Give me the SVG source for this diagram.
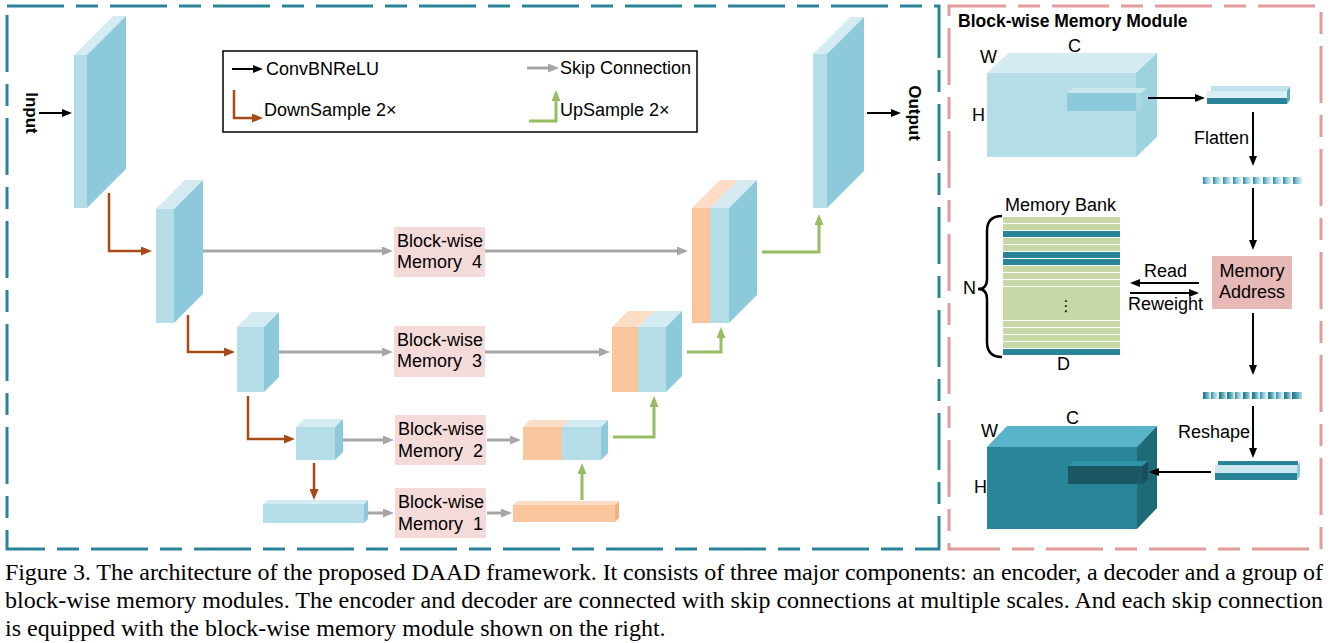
<svg xmlns="http://www.w3.org/2000/svg" width="1332" height="643" viewBox="0 0 1332 643">
<defs>
<style>
.t{font-family:"Liberation Sans",Arial,sans-serif;font-size:18px;fill:#000}
.tb{font-family:"Liberation Sans",Arial,sans-serif;font-size:17px;font-weight:bold;fill:#000}
.cap{font-family:"Liberation Serif","Times New Roman",serif;font-size:24px;fill:#000}
.fr{fill:#b5dde7}.sd{fill:#8ccadb}.tp{fill:#d4ebf2}
.of{fill:#f9c59c}.ot{fill:#fddcc5}.os{fill:#f6b07c}
.mem{fill:#f5dada}
.g{stroke:#a6a6a6;stroke-width:3;fill:none}
.b{stroke:#a64b17;stroke-width:2.5;fill:none}
.gr{stroke:#97bd63;stroke-width:3;fill:none}
.k{stroke:#000;stroke-width:2;fill:none}
.gb{fill:#c5d8a5}.tb2{fill:#2a8497}
</style>
<marker id="mk" markerWidth="10" markerHeight="8" refX="6" refY="4" orient="auto" markerUnits="userSpaceOnUse"><path d="M0,0 L10,4 L0,8 z" fill="#000"/></marker>
<marker id="mg" markerWidth="11" markerHeight="9" refX="7" refY="4.5" orient="auto" markerUnits="userSpaceOnUse"><path d="M0,0 L11,4.5 L0,9 z" fill="#a6a6a6"/></marker>
<marker id="mb" markerWidth="11" markerHeight="9" refX="7" refY="4.5" orient="auto" markerUnits="userSpaceOnUse"><path d="M0,0 L11,4.5 L0,9 z" fill="#a64b17"/></marker>
<marker id="mgr" markerWidth="11" markerHeight="9" refX="7" refY="4.5" orient="auto" markerUnits="userSpaceOnUse"><path d="M0,0 L11,4.5 L0,9 z" fill="#97bd63"/></marker>
<linearGradient id="seg1" x1="0" y1="0" x2="1" y2="0"><stop offset="0" stop-color="#2e8a9c"/><stop offset="0.45" stop-color="#8ccadb"/><stop offset="1" stop-color="#dcf0f5"/></linearGradient>
<linearGradient id="seg2" x1="0" y1="0" x2="1" y2="0"><stop offset="0" stop-color="#1f6f80"/><stop offset="0.5" stop-color="#4fa3b6"/><stop offset="1" stop-color="#b8dfe9"/></linearGradient>
</defs>
<rect width="1332" height="643" fill="#fff"/>

<g id="frames">
<rect x="7" y="6" width="932" height="543" fill="none" stroke="#2a8497" stroke-width="3" stroke-dasharray="57 12 22 12"/>
<rect x="949" y="6" width="372" height="543" fill="none" stroke="#e29b99" stroke-width="3" stroke-dasharray="57 12 22 12"/>
</g>

<g id="legend">
<rect x="223" y="51" width="474" height="81" fill="none" stroke="#000" stroke-width="1.5"/>
<text class="t" x="266" y="75">ConvBNReLU</text>
<text class="t" x="264" y="116">DownSample 2×</text>
<text class="t" x="560" y="74">Skip Connection</text>
<text class="t" x="560" y="116">UpSample 2×</text>
</g>

<g id="input-label"><text class="tb" transform="translate(26,113) rotate(90)" text-anchor="middle">Input</text></g>
<g id="output-label"><text class="tb" transform="translate(909,113) rotate(90)" text-anchor="middle">Output</text></g>

<g id="enc1">
<rect class="fr" x="74" y="55" width="13" height="153"/>
<polygon class="tp" points="74,55 87,55 126,16 113,16"/>
<polygon class="sd" points="87,55 126,16 126,169 87,208"/>
</g>
<g id="enc2">
<rect class="fr" x="156" y="209" width="18" height="114"/>
<polygon class="tp" points="156,209 174,209 203,180 185,180"/>
<polygon class="sd" points="174,209 203,180 203,294 174,323"/>
</g>
<g id="enc3">
<rect class="fr" x="237" y="327" width="27" height="65"/>
<polygon class="tp" points="237,327 264,327 279,312 252,312"/>
<polygon class="sd" points="264,327 279,312 279,377 264,392"/>
</g>
<g id="enc4">
<rect class="fr" x="296" y="427" width="39" height="33"/>
<polygon class="tp" points="296,427 335,427 343,419 304,419"/>
<polygon class="sd" points="335,427 343,419 343,452 335,460"/>
</g>
<g id="enc5">
<rect class="fr" x="263" y="504" width="101" height="19"/>
<polygon class="tp" points="263,504 364,504 368,500 267,500"/>
<polygon class="sd" points="364,504 368,500 368,519 364,523"/>
</g>

<g id="dec1">
<rect class="of" x="513" y="505" width="102" height="17"/>
<polygon class="ot" points="513,505 615,505 619,501 517,501"/>
<polygon class="os" points="615,505 619,501 619,518 615,522"/>
</g>
<g id="dec2">
<rect class="of" x="523" y="427" width="39" height="33"/>
<rect class="fr" x="562" y="427" width="39" height="33"/>
<polygon class="ot" points="523,427 562,427 569,420 530,420"/>
<polygon class="tp" points="562,427 601,427 608,420 569,420"/>
<polygon class="sd" points="601,427 608,420 608,453 601,460"/>
</g>
<g id="dec3">
<rect class="of" x="612" y="327" width="26" height="65"/>
<rect class="fr" x="638" y="327" width="28" height="65"/>
<polygon class="ot" points="612,327 638,327 654,311 628,311"/>
<polygon class="tp" points="638,327 666,327 682,311 654,311"/>
<polygon class="sd" points="666,327 682,311 682,376 666,392"/>
</g>
<g id="dec4">
<rect class="of" x="692" y="208" width="18" height="115"/>
<rect class="fr" x="710" y="208" width="19" height="115"/>
<polygon class="ot" points="692,208 710,208 738,180 720,180"/>
<polygon class="tp" points="710,208 729,208 757,180 738,180"/>
<polygon class="sd" points="729,208 757,180 757,295 729,323"/>
</g>
<g id="out">
<rect class="fr" x="813" y="54" width="14" height="154"/>
<polygon class="tp" points="813,54 827,54 864,17 850,17"/>
<polygon class="sd" points="827,54 864,17 864,171 827,208"/>
</g>

<g id="mem4"><rect class="mem" x="394" y="227" width="91" height="50"/><text class="t" x="397" y="247">Block-wise</text><text class="t" x="397" y="268" xml:space="preserve">Memory  4</text></g>
<g id="mem3"><rect class="mem" x="394" y="326" width="91" height="51"/><text class="t" x="397" y="346">Block-wise</text><text class="t" x="397" y="367" xml:space="preserve">Memory  3</text></g>
<g id="mem2"><rect class="mem" x="395" y="415" width="91" height="50"/><text class="t" x="398" y="435">Block-wise</text><text class="t" x="398" y="457" xml:space="preserve">Memory  2</text></g>
<g id="mem1"><rect class="mem" x="395" y="488" width="91" height="50"/><text class="t" x="398" y="508">Block-wise</text><text class="t" x="398" y="530" xml:space="preserve">Memory  1</text></g>

<g id="module-title"><text class="tb" x="958" y="27" style="font-size:17.5px">Block-wise Memory Module</text></g>

<g id="cube-in">
<rect x="987" y="73" width="149" height="84" fill="#b5dde7"/>
<polygon points="987,73 1136,73 1157,53 1008,53" fill="#d4ebf2"/>
<polygon points="1136,73 1157,53 1157,137 1136,157" fill="#9dd2df"/>
<rect x="1067" y="93" width="69" height="18" fill="#8ccadb"/>
<rect x="1136" y="93" width="5" height="18" fill="#a9d8e3"/>
<polygon points="1141,93 1147,88 1147,106 1141,111" fill="#a0d4e0"/>
<polygon points="1067,93 1141,93 1147,88 1073,88" fill="#c7e6ee"/>
<text class="t" x="980" y="63">W</text>
<text class="t" x="1068" y="52">C</text>
<text class="t" x="972" y="121">H</text>
</g>

<g id="block-in">
<rect x="1211" y="86" width="79" height="5" fill="#bfe3ec"/>
<rect x="1207" y="91" width="80" height="7" fill="#daeff5"/>
<rect x="1207" y="98" width="80" height="6" fill="#2a8497"/>
<polygon points="1287,91 1290,87 1290,100 1287,104" fill="#5eaec0"/>
<text class="t" x="1194" y="144">Flatten</text>
</g>

<g id="vec-in">
<rect x="1203" y="177" width="8" height="7" fill="url(#seg1)"/>
<rect x="1213" y="177" width="8" height="7" fill="url(#seg1)"/>
<rect x="1223" y="177" width="8" height="7" fill="url(#seg1)"/>
<rect x="1233" y="177" width="8" height="7" fill="url(#seg1)"/>
<rect x="1243" y="177" width="8" height="7" fill="url(#seg1)"/>
<rect x="1253" y="177" width="8" height="7" fill="url(#seg1)"/>
<rect x="1263" y="177" width="8" height="7" fill="url(#seg1)"/>
<rect x="1273" y="177" width="8" height="7" fill="url(#seg1)"/>
<rect x="1283" y="177" width="8" height="7" fill="url(#seg1)"/>
<rect x="1293" y="177" width="9" height="7" fill="url(#seg1)"/>
</g>

<g id="addr">
<rect x="1212" y="256" width="80" height="53" fill="#e6b8b6"/>
<text class="t" x="1252" y="277" text-anchor="middle">Memory</text>
<text class="t" x="1252" y="298" text-anchor="middle">Address</text>
<text class="t" x="1144" y="277">Read</text>
<text class="t" x="1128" y="310">Reweight</text>
</g>

<g id="bank">
<rect class="gb" x="1003" y="217" width="117" height="6"/>
<rect class="gb" x="1003" y="224" width="117" height="6"/>
<rect class="tb2" x="1003" y="231" width="117" height="6"/>
<rect class="gb" x="1003" y="238" width="117" height="6"/>
<rect class="gb" x="1003" y="245" width="117" height="6"/>
<rect class="tb2" x="1003" y="252" width="117" height="6"/>
<rect class="tb2" x="1003" y="259" width="117" height="6"/>
<rect class="gb" x="1003" y="266" width="117" height="6"/>
<rect class="gb" x="1003" y="273" width="117" height="6"/>
<rect class="gb" x="1003" y="280" width="117" height="6"/>
<rect class="gb" x="1003" y="287" width="117" height="33"/>
<rect class="gb" x="1003" y="321" width="117" height="6"/>
<rect class="gb" x="1003" y="328" width="117" height="6"/>
<rect class="gb" x="1003" y="335" width="117" height="6"/>
<rect class="gb" x="1003" y="342" width="117" height="6"/>
<rect class="tb2" x="1003" y="349" width="117" height="6"/>
<text x="1066" y="311" style="font-family:'DejaVu Sans',sans-serif;font-size:15px" text-anchor="middle">⋮</text>
<path d="M1002,216 Q987,216 987,231 L987,279 Q987,289 978,289 Q987,289 987,299 L987,342 Q987,357 1002,357" fill="none" stroke="#000" stroke-width="2.5"/>
<text class="t" x="1005" y="211">Memory Bank</text>
<text class="t" x="963" y="294">N</text>
<text class="t" x="1057" y="370">D</text>
</g>

<g id="vec-out">
<rect x="1203" y="392" width="7" height="7" fill="url(#seg2)"/>
<rect x="1211" y="392" width="7" height="7" fill="url(#seg1)"/>
<rect x="1219" y="392" width="7" height="7" fill="url(#seg2)"/>
<rect x="1227" y="392" width="7" height="7" fill="url(#seg2)"/>
<rect x="1235" y="392" width="7" height="7" fill="url(#seg1)"/>
<rect x="1243" y="392" width="7" height="7" fill="url(#seg2)"/>
<rect x="1252" y="392" width="7" height="7" fill="url(#seg2)"/>
<rect x="1260" y="392" width="7" height="7" fill="url(#seg1)"/>
<rect x="1268" y="392" width="7" height="7" fill="url(#seg2)"/>
<rect x="1276" y="392" width="7" height="7" fill="url(#seg1)"/>
<rect x="1284" y="392" width="7" height="7" fill="url(#seg2)"/>
<rect x="1292" y="392" width="10" height="7" fill="url(#seg2)"/>
</g>

<g id="block-out">
<rect x="1218" y="461" width="80" height="4" fill="#2a8497"/>
<rect x="1215" y="465" width="82" height="8" fill="#cbe8f0"/>
<rect x="1215" y="473" width="82" height="7" fill="#2a8497"/>
<polygon points="1297,466 1300,462 1300,476 1297,480" fill="#8ccadb"/>
<text class="t" x="1178" y="438">Reshape</text>
</g>

<g id="cube-out">
<rect x="987" y="447" width="150" height="82" fill="#288597"/>
<polygon points="987,447 1137,447 1157,426 1007,426" fill="#57b4c9"/>
<polygon points="1137,447 1157,426 1157,508 1137,529" fill="#1f6a79"/>
<rect x="1068" y="466" width="69" height="18" fill="#1b5663"/>
<rect x="1137" y="466" width="5" height="18" fill="#1d5a68"/>
<polygon points="1142,466 1148,461 1148,479 1142,484" fill="#1a4f5c"/>
<polygon points="1068,466 1142,466 1148,461 1074,461" fill="#2f93a8"/>
<text class="t" x="981" y="437">W</text>
<text class="t" x="1066" y="424">C</text>
<text class="t" x="974" y="493">H</text>
</g>

<g id="connectors">
<path class="k" d="M39,113 H68" marker-end="url(#mk)"/>
<path class="k" d="M867,113 H897" marker-end="url(#mk)"/>
<path class="b" d="M109,193 V251 H148" marker-end="url(#mb)"/>
<path class="b" d="M188,315 V352 H231" marker-end="url(#mb)"/>
<path class="b" d="M248,396 V439 H291" marker-end="url(#mb)"/>
<path class="b" d="M314,463 V496" marker-end="url(#mb)"/>
<path class="g" d="M203,251 H389" marker-end="url(#mg)"/>
<path class="g" d="M485,251 H684" marker-end="url(#mg)"/>
<path class="g" d="M279,352 H389" marker-end="url(#mg)"/>
<path class="g" d="M485,352 H606" marker-end="url(#mg)"/>
<path class="g" d="M343,440 H390" marker-end="url(#mg)"/>
<path class="g" d="M487,440 H517" marker-end="url(#mg)"/>
<path class="g" d="M368,513 H390" marker-end="url(#mg)"/>
<path class="g" d="M487,513 H508" marker-end="url(#mg)"/>
<path class="gr" d="M582,500 V467" marker-end="url(#mgr)"/>
<path class="gr" d="M613,437 H654 V400" marker-end="url(#mgr)"/>
<path class="gr" d="M687,352 H721 V331" marker-end="url(#mgr)"/>
<path class="gr" d="M762,252 H819 V218" marker-end="url(#mgr)"/>
<path class="k" d="M232,69 H259" marker-end="url(#mk)"/>
<path class="b" d="M234,90 V118 H259" marker-end="url(#mb)"/>
<path class="g" d="M527,68 H555" marker-end="url(#mg)"/>
<path class="gr" d="M529,121 H556 V94" marker-end="url(#mgr)"/>
<path class="k" d="M1148,98 H1201" marker-end="url(#mk)"/>
<path class="k" d="M1253,112 V162" marker-end="url(#mk)"/>
<path class="k" d="M1253,188 V246" marker-end="url(#mk)"/>
<path class="k" d="M1199,283 H1134" marker-end="url(#mk)"/>
<path class="k" d="M1130,293 H1195" marker-end="url(#mk)"/>
<path class="k" d="M1253,313 V371" marker-end="url(#mk)"/>
<path class="k" d="M1253,406 V454" marker-end="url(#mk)"/>
<path class="k" d="M1211,472 H1153" marker-end="url(#mk)"/>
</g>

<g id="caption">
<text class="cap" x="5" y="580" textLength="1318" lengthAdjust="spacing">Figure 3. The architecture of the proposed DAAD framework. It consists of three major components: an encoder, a decoder and a group of</text>
<text class="cap" x="5" y="608" textLength="1318" lengthAdjust="spacing">block-wise memory modules. The encoder and decoder are connected with skip connections at multiple scales. And each skip connection</text>
<text class="cap" x="5" y="636">is equipped with the block-wise memory module shown on the right.</text>
</g>
</svg>
